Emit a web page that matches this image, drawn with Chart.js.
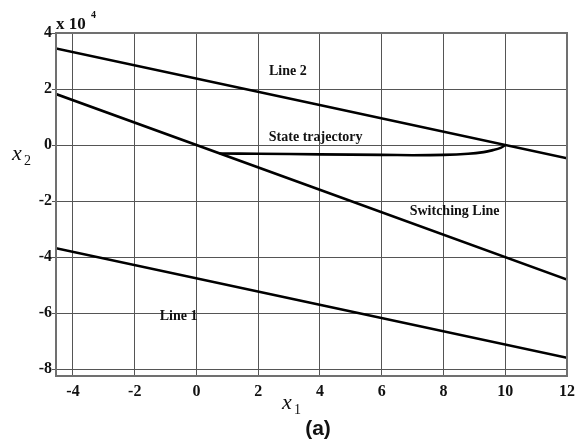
<!DOCTYPE html>
<html>
<head>
<meta charset="utf-8">
<script src="https://cdn.jsdelivr.net/npm/chart.js@4.4.1/dist/chart.umd.min.js"></script>
<style>
    html, body { margin: 0; padding: 0; background: #fff; }
    #wrap { width: 581px; height: 442px; }
</style>
</head>
<body>
<div id="wrap"><canvas id="chart" width="581" height="442"></canvas></div>
<script>
// values in units of 10^4 on the x2 axis
const xTicks = [-4, -2, 0, 2, 4, 6, 8, 10, 12];
const yTicks = [-8, -6, -4, -2, 0, 2, 4];

const line2X = [-4.55, 12];
const line2Y = [3.45, -0.47];

const switchX = [-4.55, 12];
const switchY = [1.82, -4.8];

const line1X = [-4.55, 12];
const line1Y = [-3.68, -7.59];

const trajX = [0.75, 2, 4, 6, 7, 8, 8.8, 9.3, 9.6, 9.85, 10];
const trajY = [-0.3, -0.31, -0.33, -0.35, -0.36, -0.35, -0.31, -0.25, -0.18, -0.1, 0];

const labels = [
    { text: 'Line 2', x: 2.96, y: 2.64 },
    { text: 'State trajectory', x: 3.86, y: 0.29 },
    { text: 'Switching Line', x: 8.36, y: -2.35 },
    { text: 'Line 1', x: -0.58, y: -6.1 },
];

function toPoints(xs, ys) {
    return xs.map((x, i) => ({ x: x, y: ys[i] }));
}

function lineSet(xs, ys) {
    return {
        data: toPoints(xs, ys),
        showLine: true,
        borderColor: '#000',
        borderWidth: 2.6,
        pointRadius: 0,
        tension: 0.3,
        fill: false,
    };
}

const serifBold = 'bold 16px "Liberation Serif", "Times New Roman", serif';

const extrasPlugin = {
    id: 'extras',
    beforeDraw(chart) {
        const ctx = chart.ctx;
        ctx.save();
        ctx.fillStyle = '#fff';
        ctx.fillRect(0, 0, chart.width, chart.height);
        ctx.restore();
    },
    afterDraw(chart) {
        const ctx = chart.ctx;
        const area = chart.chartArea;
        const xs = chart.scales.x;
        const ys = chart.scales.y;
        ctx.save();

        // frame
        ctx.strokeStyle = '#707070';
        ctx.lineWidth = 2;
        ctx.strokeRect(area.left, area.top, area.right - area.left, area.bottom - area.top);

        // in-plot labels
        ctx.fillStyle = '#111';
        ctx.font = 'bold 14px "Liberation Serif", "Times New Roman", serif';
        ctx.textAlign = 'center';
        ctx.textBaseline = 'middle';
        labels.forEach((l) => {
            ctx.fillText(l.text, xs.getPixelForValue(l.x), ys.getPixelForValue(l.y));
        });

        // x 10^4
        ctx.textAlign = 'left';
        ctx.textBaseline = 'alphabetic';
        ctx.font = 'bold 17px "Liberation Serif", "Times New Roman", serif';
        ctx.fillText('x 10', 56, 29);
        ctx.font = 'bold 10px "Liberation Serif", "Times New Roman", serif';
        ctx.fillText('4', 91, 18);

        // axis names
        ctx.font = 'italic 22px "Liberation Serif", "Times New Roman", serif';
        ctx.fillText('x', 12, 160);
        ctx.fillText('x', 282, 409);
        ctx.font = '14px "Liberation Serif", "Times New Roman", serif';
        ctx.fillText('2', 24, 165);
        ctx.fillText('1', 294, 414);

        // caption
        ctx.font = 'bold 21px "Liberation Sans", Arial, sans-serif';
        ctx.textAlign = 'center';
        ctx.fillText('(a)', 318, 435);
        ctx.restore();
    },
};

new Chart(document.getElementById('chart'), {
    type: 'scatter',
    data: {
        datasets: [
            lineSet(line2X, line2Y),
            lineSet(switchX, switchY),
            lineSet(line1X, line1Y),
            lineSet(trajX, trajY),
        ],
    },
    options: {
        responsive: false,
        animation: false,
        layout: { padding: { left: 0, right: 11, top: 33, bottom: 0 } },
        plugins: {
            legend: { display: false },
            tooltip: { enabled: false },
        },
        scales: {
            x: {
                type: 'linear',
                min: -4.55,
                max: 12,
                afterBuildTicks: (axis) => {
                    axis.ticks = xTicks.map((v) => ({ value: v }));
                },
                afterFit: (axis) => {
                    axis.height = 66;
                },
                grid: { color: '#555', lineWidth: 1, drawTicks: false },
                border: { display: false },
                ticks: {
                    color: '#111',
                    font: { family: '"Liberation Serif", serif', size: 16, weight: 'bold' },
                    padding: 6,
                    maxRotation: 0,
                },
            },
            y: {
                type: 'linear',
                min: -8.24,
                max: 4,
                afterBuildTicks: (axis) => {
                    axis.ticks = yTicks.map((v) => ({ value: v }));
                },
                afterFit: (axis) => {
                    axis.width = 56;
                },
                grid: { color: '#555', lineWidth: 1, tickLength: 4, tickColor: '#555' },
                border: { display: false },
                ticks: {
                    color: '#111',
                    font: { family: '"Liberation Serif", serif', size: 16, weight: 'bold' },
                    padding: 0,
                },
            },
        },
    },
    plugins: [extrasPlugin],
});
</script>
</body>
</html>
